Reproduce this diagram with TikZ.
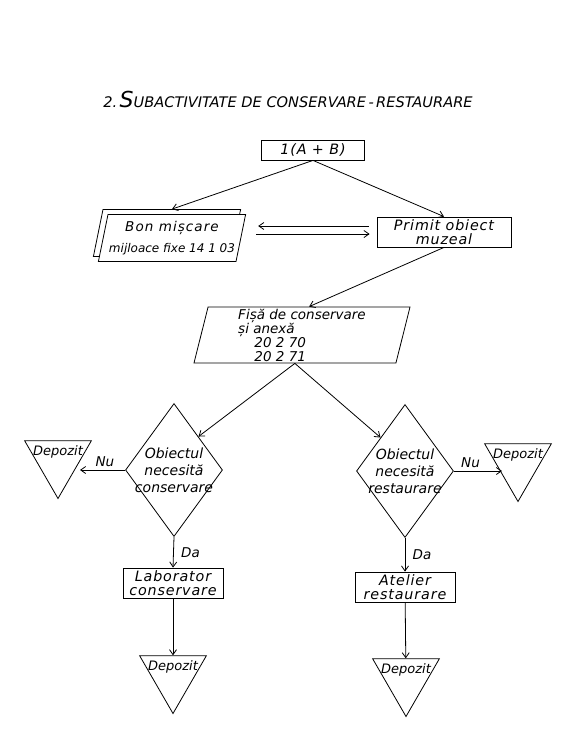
\documentclass[tikz,border=0pt]{standalone}
\usepackage{fontspec}
\setmainfont{DejaVu Sans}
\usetikzlibrary{shapes.geometric,shadows,arrows.meta}

\tikzset{
  hand/.style={font=\itshape\fontsize{13.5}{14}\selectfont},
  box/.style={draw, rectangle, align=center, inner sep=1pt,
    font=\itshape\fontsize{14.3}{14}\selectfont\addfontfeatures{LetterSpace=6}},
  doc/.style={draw, trapezium, trapezium left angle=75, trapezium right angle=105,
    trapezium stretches body, fill=white, hand, align=center, inner sep=1pt},
  dec/.style={draw, diamond, font=\itshape\fontsize{14}{17}\selectfont, align=center,
    inner sep=-5pt, shape aspect=0.73, minimum width=97pt, minimum height=133pt},
  depo/.style={draw, regular polygon, regular polygon sides=3,
    shape border rotate=180, minimum size=77pt, inner sep=0pt},
  depotext/.style={font=\itshape\fontsize{13}{13}\selectfont},
  flow/.style={-{Straight Barb[length=5pt,width=7pt]}, line width=0.8pt}
}

\begin{document}
\begin{tikzpicture}[x=1pt, y=-1pt, line width=0.8pt]
\useasboundingbox (0,0) rectangle (567,750);
\node[font=\itshape\fontsize{14.6}{16}\selectfont] (title) at (288,99)
  {2.\,{\fontsize{22}{22}\selectfont S}UBACTIVITATE DE CONSERVARE\,-\,RESTAURARE};
\node[box, minimum width=103pt, minimum height=20pt] (start) at (313,150) {1(A + B)};
\node[doc, copy shadow={shadow xshift=-5pt, shadow yshift=5pt},
  minimum width=146pt, minimum height=47pt, font=\itshape\fontsize{12}{21}\selectfont] (bon) at (172,238)
  {{\fontsize{13.5}{21}\selectfont\addfontfeatures{LetterSpace=8}Bon mișcare}\\mijloace fixe 14 1 03};
\node[box, minimum width=134pt, minimum height=30pt] (primit) at (444,232)
  {Primit obiect\\muzeal};
\node[doc, align=left, minimum width=216pt, minimum height=56pt, inner sep=0pt] (fisa) at (302,335)
  {Fișă de conservare\\și anexă\\\hspace*{1.2em}20 2 70\\\hspace*{1.2em}20 2 71};
\node[dec] (ldec) at (174,470) {Obiectul\\necesită\\conservare};
\node[dec] (rdec) at (405,471) {Obiectul\\necesită\\restaurare};
\node[depo] (ldep) at (58,460) {};
\node[depotext] (ldept) at (58,452) {Depozit};
\node[depo] (rdep) at (518,463) {};
\node[depotext] (rdept) at (518,455) {Depozit};
\node[box, minimum width=100pt, minimum height=30pt] (lab) at (173,583)
  {Laborator\\conservare};
\node[box, minimum width=100pt, minimum height=30pt] (atel) at (405,587)
  {Atelier\\restaurare};
\node[depo] (ldepb) at (173,675) {};
\node[depotext] (ldepbt) at (173,667) {Depozit};
\node[depo] (rdepb) at (406,678) {};
\node[depotext] (rdepbt) at (406,670) {Depozit};

\draw[flow] (start.south) -- ([yshift=5pt]bon.north);
\draw[flow] (start.south) -- (primit.north);
\draw[flow, shorten <=8pt, shorten >=17pt] ([yshift=6pt]primit.west)
  -- ([yshift=6pt]primit.west -| bon.east);
\draw[flow, shorten <=15pt, shorten >=7pt] ([yshift=-2pt]primit.west -| bon.east)
  -- ([yshift=-2pt]primit.west);
\draw[flow] (primit.south) -- (fisa.top side);
\draw[flow] (fisa.bottom side) -- (ldec.north east);
\draw[flow] (fisa.bottom side) -- (rdec.north west);
\draw[flow, shorten >=22pt] (ldec.west)
  -- node[pos=0.3, above, hand] (lnu) {Nu} (ldec.west -| ldep.center);
\draw[flow, shorten >=16pt] (rdec.east)
  -- node[pos=0.26, above, hand] (rnu) {Nu} (rdec.east -| rdep.center);
\draw[flow] (ldec.south) -- node[right, hand, xshift=4pt] (lda) {Da} (lab.north);
\draw[flow] (rdec.south) -- node[right, hand, xshift=4pt] (rda) {Da} (atel.north);
\draw[flow] (lab) -- (ldepb);
\draw[flow] (atel) -- (rdepb);
\end{tikzpicture}
\end{document}
